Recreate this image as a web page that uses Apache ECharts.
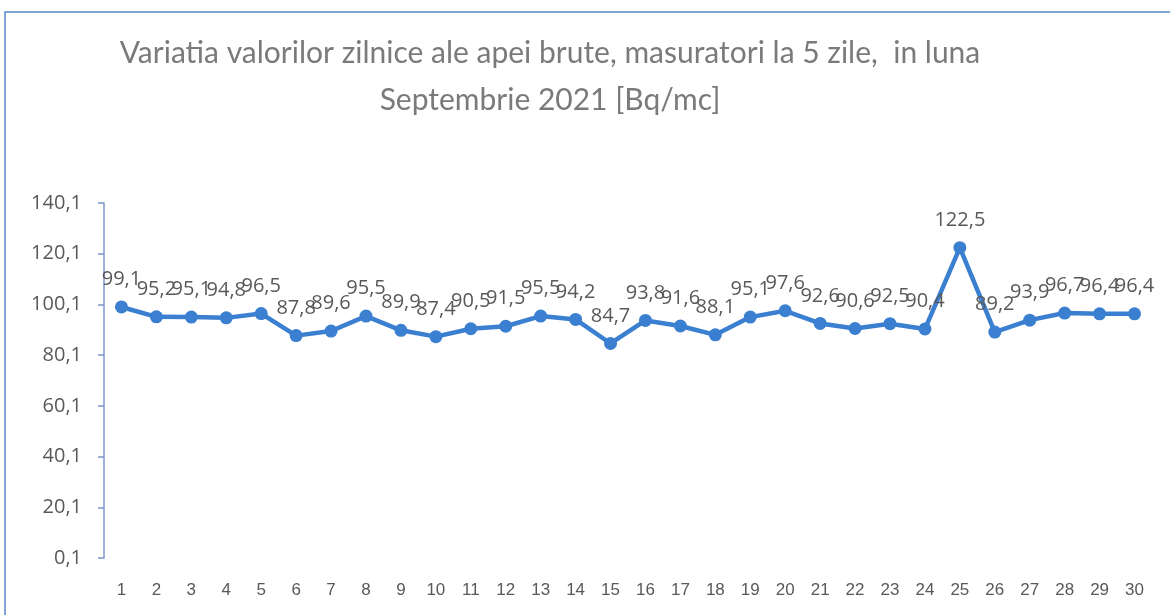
<!DOCTYPE html>
<html>
<head>
<meta charset="utf-8">
<script src="https://cdn.jsdelivr.net/npm/echarts@6/dist/echarts.min.js"></script>
<style>
  html, body { margin: 0; padding: 0; background: #ffffff; }
  #chart { width: 1170px; height: 615px; }
</style>
</head>
<body>
<div id="chart"></div>
<script>
// Daily measurements of raw water, September 2021
const days = ['1','2','3','4','5','6','7','8','9','10','11','12','13','14','15','16','17','18','19','20','21','22','23','24','25','26','27','28','29','30'];
const values = [99.1, 95.2, 95.1, 94.8, 96.5, 87.8, 89.6, 95.5, 89.9, 87.4, 90.5, 91.5, 95.5, 94.2, 84.7, 93.8, 91.6, 88.1, 95.1, 97.6, 92.6, 90.6, 92.5, 90.4, 122.5, 89.2, 93.9, 96.7, 96.4, 96.4];
const titleLines = ['Variatia valorilor zilnice ale apei brute, masuratori la 5 zile,  in luna', 'Septembrie 2021 [Bq/mc]'];

const comma = v => Number(v).toFixed(1).replace('.', ',');
const textColor = '#595959';

const chart = echarts.init(document.getElementById('chart'));
chart.setOption({
  backgroundColor: '#ffffff',
  animation: false,
  graphic: [{
    type: 'rect',
    shape: { x: 5, y: 12, width: 1200, height: 700 },
    style: { fill: 'none', stroke: '#5b87c9', lineWidth: 1.5 }
  }],
  title: {
    text: titleLines.join('\n'),
    left: 545,
    textAlign: 'center',
    top: 25,
    textStyle: {
      fontFamily: 'Lato, sans-serif',
      fontSize: 30,
      fontWeight: 'normal',
      color: '#7a7a7a',
      lineHeight: 47
    }
  },
  grid: { left: 104, right: 18, top: 203, bottom: 57, containLabel: false },
  xAxis: {
    type: 'category',
    data: days,
    boundaryGap: true,
    axisLine: { show: false },
    axisTick: { show: false },
    axisLabel: {
      color: textColor,
      fontSize: 17,
      fontFamily: 'Liberation Sans Narrow, sans-serif',
      margin: 24,
      interval: 0
    }
  },
  yAxis: {
    type: 'value',
    min: 0.1,
    max: 140.1,
    interval: 20,
    axisLine: { show: true, lineStyle: { color: '#7b95c8', width: 1.5 } },
    axisTick: { show: true, inside: false, length: 6, lineStyle: { color: '#7b95c8', width: 1.5 } },
    splitLine: { show: false },
    axisLabel: {
      color: textColor,
      fontSize: 20,
      fontFamily: 'Open Sans, sans-serif',
      margin: 22,
      formatter: v => comma(v)
    }
  },
  series: [{
    type: 'line',
    data: values,
    symbol: 'circle',
    symbolSize: 13,
    lineStyle: { color: '#3b7fd1', width: 4.5 },
    itemStyle: { color: '#3b7fd1' },
    label: {
      show: true,
      position: 'top',
      distance: 11,
      color: textColor,
      fontSize: 20,
      fontFamily: 'Open Sans, sans-serif',
      formatter: p => comma(p.value)
    }
  }]
});
</script>
</body>
</html>
